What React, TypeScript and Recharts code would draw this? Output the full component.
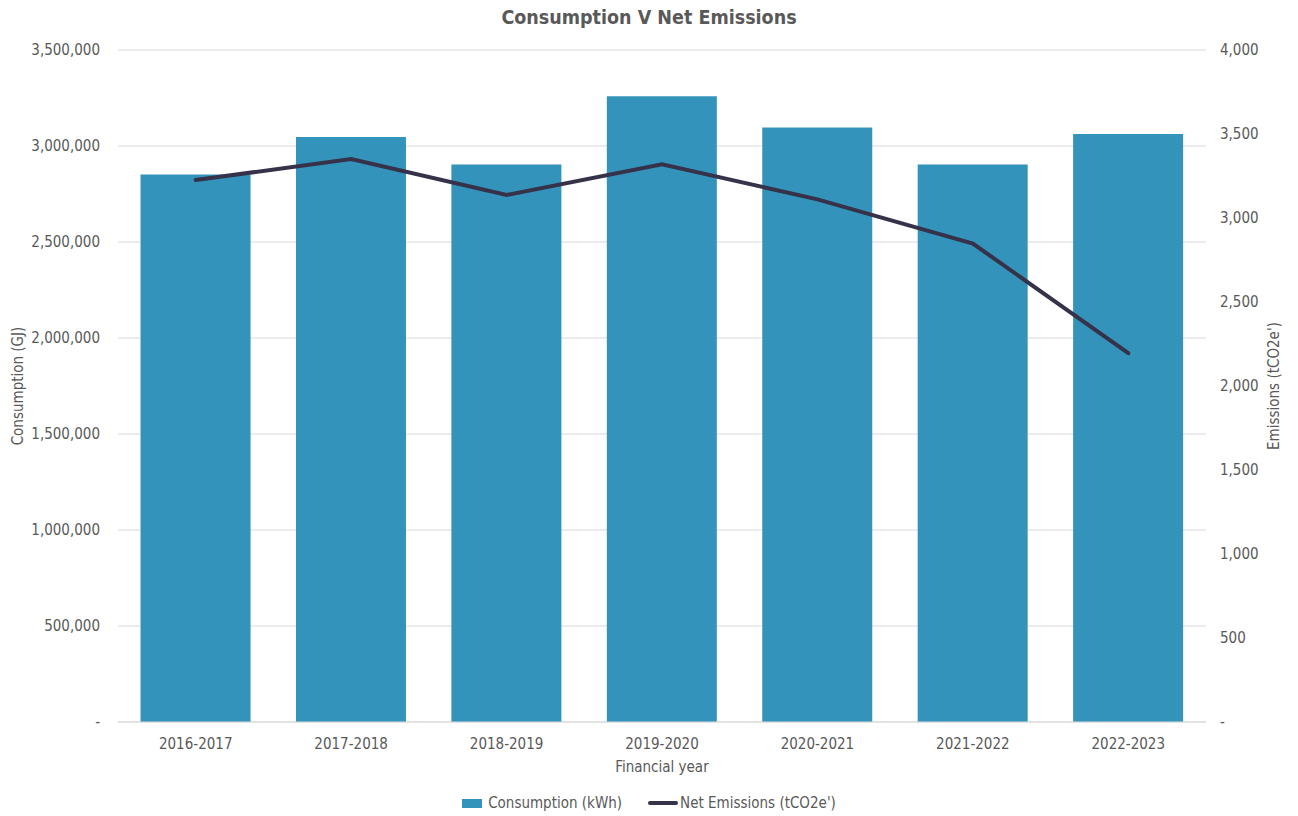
import { ComposedChart, Bar, Line, XAxis, YAxis, CartesianGrid } from "recharts";

const years = ["2016-2017", "2017-2018", "2018-2019", "2019-2020", "2020-2021", "2021-2022", "2022-2023"];
const consumption = [2851000, 3047000, 2903000, 3259000, 3097000, 2903000, 3063000];
const emissions = [3226, 3351, 3137, 3320, 3111, 2848, 2195];
const leftTicks = [0, 500000, 1000000, 1500000, 2000000, 2500000, 3000000, 3500000];
const rightTicks = [0, 500, 1000, 1500, 2000, 2500, 3000, 3500, 4000];

const FONT = "'Liberation Sans Narrow', 'Arial Narrow', 'DejaVu Sans Condensed', sans-serif";
const TEXT = "#595959";
const BAR = "#3493ba";
const LINE = "#35324a";

const data = years.map((y, i) => ({ year: y, consumption: consumption[i], emissions: emissions[i] }));

const fmt = (v: number) => (v === 0 ? "-" : v.toLocaleString("en-US"));

export default function App() {
  return (
    <div style={{ position: "absolute", left: 0, top: 0, width: 1298, height: 816, background: "#fff", fontFamily: FONT }}>
      <div style={{ position: "absolute", top: 6, left: 0, width: 1298, textAlign: "center", fontSize: 19.5, fontWeight: 700, color: TEXT }}>
        Consumption V Net Emissions
      </div>
      <ComposedChart
        width={1298}
        height={816}
        data={data}
        margin={{ top: 50, right: 0, left: 0, bottom: 44 }}
        barCategoryGap="14.5%"
        style={{ fontFamily: FONT }}
      >
        <CartesianGrid vertical={false} stroke="#d9d9d9" yAxisId="left" />
        <XAxis
          dataKey="year"
          height={50}
          tick={{ fontSize: 15, fill: TEXT }}
          tickLine={false}
          axisLine={{ stroke: "#d9d9d9" }}
          tickMargin={10}
          label={{ value: "Financial year", position: "insideBottom", offset: 0, fontSize: 15, fill: TEXT }}
        />
        <YAxis
          yAxisId="left"
          width={118}
          domain={[0, 3500000]}
          ticks={leftTicks}
          interval={0}
          tickFormatter={fmt}
          tick={{ fontSize: 15, fill: TEXT }}
          tickLine={false}
          axisLine={false}
          tickSize={0}
          tickMargin={18}
          label={{ value: "Consumption (GJ)", angle: -90, position: "insideLeft", offset: 18, fontSize: 15, fill: TEXT, style: { textAnchor: "middle" } }}
        />
        <YAxis
          yAxisId="right"
          orientation="right"
          width={92}
          domain={[0, 4000]}
          ticks={rightTicks}
          interval={0}
          tickFormatter={fmt}
          tick={{ fontSize: 15, fill: TEXT }}
          tickLine={false}
          axisLine={false}
          tickSize={0}
          tickMargin={14}
          label={{ value: "Emissions (tCO2e')", angle: -90, position: "insideRight", offset: 24, fontSize: 15, fill: TEXT, style: { textAnchor: "middle" } }}
        />
        <Bar yAxisId="left" dataKey="consumption" fill={BAR} isAnimationActive={false} />
        <Line
          yAxisId="right"
          dataKey="emissions"
          stroke={LINE}
          strokeWidth={4}
          dot={false}
          strokeLinecap="round"
          isAnimationActive={false}
        />
      </ComposedChart>
      <div style={{ position: "absolute", top: 794, left: 0, width: 1298, display: "flex", justifyContent: "center", alignItems: "center", fontSize: 15, color: TEXT }}>
        <span style={{ display: "inline-block", width: 20, height: 9, background: BAR, marginRight: 6 }} />
        <span style={{ marginRight: 26 }}>Consumption (kWh)</span>
        <span style={{ display: "inline-block", width: 30, height: 4, borderRadius: 2, background: LINE, marginRight: 2 }} />
        <span>Net Emissions (tCO2e')</span>
      </div>
    </div>
  );
}
